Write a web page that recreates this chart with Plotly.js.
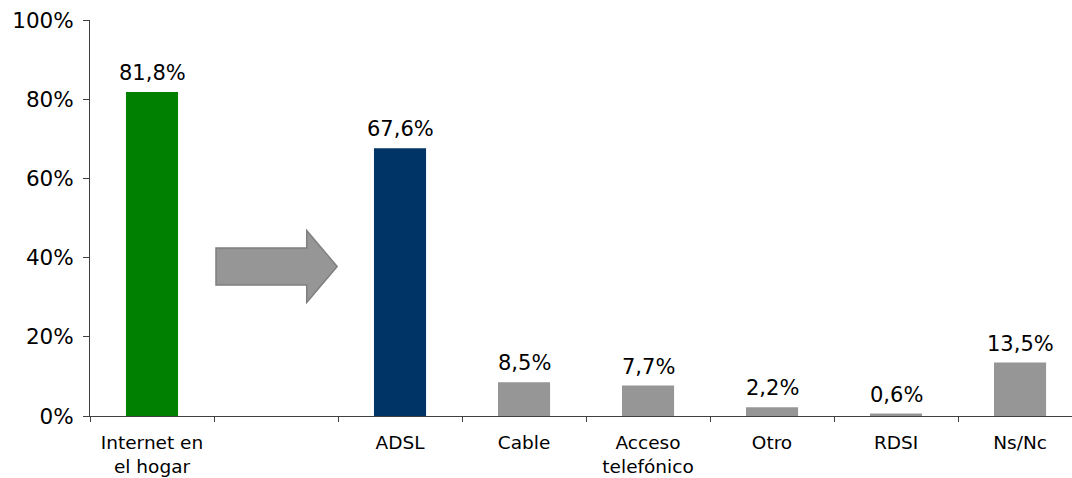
<!DOCTYPE html>
<html>
<head>
<meta charset="utf-8">
<script src="https://cdn.plot.ly/plotly-3.0.1.min.js"></script>
<style>html,body{margin:0;padding:0;background:#fff;}#chart{width:1072px;height:478px;}</style>
</head>
<body>
<div id="chart"></div>
<script>
const categories = ["Internet en<br>el hogar", " ", "ADSL", "Cable", "Acceso<br>telefónico", "Otro", "RDSI", "Ns/Nc"];
const values = [81.8, null, 67.6, 8.5, 7.7, 2.2, 0.6, 13.5];
const barColors = ["#008000", "#969696", "#003366", "#969696", "#969696", "#969696", "#969696", "#969696"];
const yTickVals = [0, 20, 40, 60, 80, 100];
const yTickText = ["0%", "20%", "40%", "60%", "80%", "100%"];

const font = "DejaVu Sans, Verdana, sans-serif";

const trace = {
  type: "bar",
  x: categories,
  y: values,
  marker: { color: barColors, line: { width: 0 } },
  width: 0.42,
  cliponaxis: false,
  hoverinfo: "skip"
};

const valueLabels = [];
categories.forEach((c, i) => {
  if (values[i] === null) return;
  valueLabels.push({
    x: c,
    y: values[i],
    xref: "x",
    yref: "y",
    text: values[i].toFixed(1).replace(".", ",") + "%",
    showarrow: false,
    yanchor: "bottom",
    yshift: 5,
    font: { family: font, size: 21, color: "#000" }
  });
});

const layout = {
  width: 1072,
  height: 478,
  margin: { l: 90, r: 0, t: 20, b: 62 },
  paper_bgcolor: "#fff",
  plot_bgcolor: "#fff",
  showlegend: false,
  font: { family: font, color: "#000" },
  xaxis: {
    type: "category",
    categoryorder: "array",
    categoryarray: categories,
    range: [-0.5, 7.419],
    showline: true,
    linecolor: "#404040",
    linewidth: 1,
    ticks: "outside",
    tickson: "boundaries",
    ticklen: 5,
    tickcolor: "#404040",
    showgrid: false,
    zeroline: false,
    tickfont: { family: font, size: 18.5, color: "#000" },
    ticklabelstandoff: 10,
    fixedrange: true
  },
  yaxis: {
    range: [0, 100],
    tickmode: "array",
    tickvals: yTickVals,
    ticktext: yTickText,
    showline: true,
    linecolor: "#404040",
    linewidth: 1,
    ticks: "outside",
    ticklen: 6,
    tickcolor: "#404040",
    showgrid: false,
    zeroline: false,
    tickfont: { family: font, size: 21.5, color: "#000" },
    ticklabelstandoff: 5,
    fixedrange: true
  },
  annotations: valueLabels,
  shapes: [{
    type: "path",
    xref: "paper",
    yref: "paper",
    path: "M 0.1283 0.424 L 0.2207 0.424 L 0.2207 0.4685 L 0.2517 0.3775 L 0.2207 0.2865 L 0.2207 0.331 L 0.1283 0.331 Z",
    fillcolor: "#969696",
    line: { color: "#7f7f7f", width: 1.5 },
    layer: "above"
  }]
};

Plotly.newPlot("chart", [trace], layout, { displayModeBar: false, staticPlot: true });
</script>
</body>
</html>
